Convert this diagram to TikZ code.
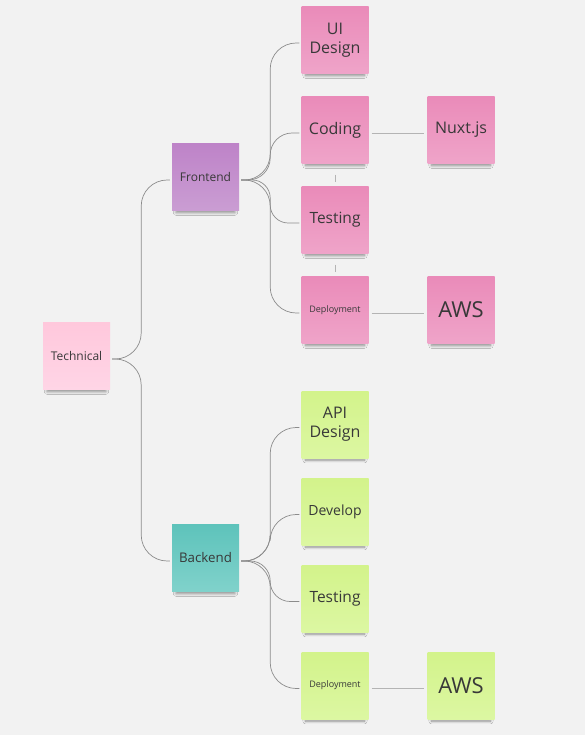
\documentclass[tikz,border=0pt]{standalone}
\usepackage{fontspec}
\setmainfont{Open Sans}
\usetikzlibrary{positioning,shadows.blur}

\definecolor{bgcol}{HTML}{F2F2F2}
\definecolor{linkcol}{HTML}{8C8C8C}
\definecolor{stubcol}{HTML}{B4B4B4}
\definecolor{inkcol}{HTML}{383838}
\definecolor{roottop}{HTML}{FFC8DC}
\definecolor{rootbot}{HTML}{FFD5E6}
\definecolor{purptop}{HTML}{BE83C8}
\definecolor{purpbot}{HTML}{CA9DD3}
\definecolor{pinktop}{HTML}{EA8BB9}
\definecolor{pinkbot}{HTML}{EFA4C9}
\definecolor{tealtop}{HTML}{5EC3BB}
\definecolor{tealbot}{HTML}{80D2CB}
\definecolor{greentop}{HTML}{D3F38B}
\definecolor{greenbot}{HTML}{DCF7A2}

\begin{document}
\begin{tikzpicture}[x=1pt,y=-1pt,
note/.style={rectangle,inner sep=0pt,minimum width=67pt,minimum height=67pt,
  align=center,text=inkcol,
  blur shadow={shadow xshift=0pt,shadow yshift=-7pt,shadow scale=0.88,shadow blur radius=3pt,shadow opacity=42,shadow blur steps=8}},
rootnote/.style={note,top color=roottop,bottom color=rootbot},
purplenote/.style={note,top color=purptop,bottom color=purpbot},
pinknote/.style={note,top color=pinktop,bottom color=pinkbot},
tealnote/.style={note,top color=tealtop,bottom color=tealbot},
greennote/.style={note,top color=greentop,bottom color=greenbot},
link/.style={draw=linkcol,line width=0.7pt},
stub/.style={draw=stubcol,line width=0.8pt},
every node/.style={font=\fontsize{12}{14}\selectfont}]

\fill[bgcol] (0,0) rectangle (585,735);
\useasboundingbox (0,0) rectangle (585,735);

% root
\node[rootnote] (tech) at (76.5,356) {Technical};

% frontend side
\node[purplenote] (front) at (205.5,177) {Frontend};
\node[pinknote,font=\fontsize{16}{19}\selectfont] (uides) at (335,40) {UI\\Design};
\node[pinknote,font=\fontsize{16}{19}\selectfont] (fcode) at (335,130) {Coding};
\node[pinknote,font=\fontsize{15.5}{19}\selectfont] (ftest) at (335,220) {Testing};
\node[pinknote,font=\fontsize{9}{11}\selectfont] (fdeploy) at (335,310) {Deployment};
\node[pinknote,font=\fontsize{16}{19}\selectfont] (nuxt) at (461,130) {Nuxt.js};
\node[pinknote,font=\fontsize{22}{26}\selectfont] (faws) at (461,310) {AWS};

% backend side
\node[tealnote,font=\fontsize{13.3}{16}\selectfont] (back) at (205.5,558) {Backend};
\node[greennote,font=\fontsize{16}{19}\selectfont] (apides) at (335,424.5) {API\\Design};
\node[greennote,font=\fontsize{14}{17}\selectfont] (bdev) at (335,511.5) {Develop};
\node[greennote,font=\fontsize{15.5}{19}\selectfont] (btest) at (335,598.5) {Testing};
\node[greennote,font=\fontsize{9}{11}\selectfont] (bdeploy) at (335,685.5) {Deployment};
\node[greennote,font=\fontsize{22}{26}\selectfont] (baws) at (461,685.5) {AWS};

% tree links
\foreach \a/\b/\r in {tech/front/26,tech/back/26,front/uides/26,front/fcode/22,front/ftest/18,front/fdeploy/26,
                   back/apides/26,back/bdev/26,back/btest/20,back/bdeploy/26}
  \draw[link,rounded corners=\r pt] ([xshift=2pt,yshift=-3pt]\a.east) -- ++(29,0) |- ([xshift=-2pt,yshift=-3pt]\b.west);

% side links
\draw[stub] ([xshift=3pt,yshift=-3pt]fcode.east) -- ([xshift=-3pt,yshift=-3pt]nuxt.west);
\draw[stub] ([xshift=3pt,yshift=-3pt]fdeploy.east) -- ([xshift=-3pt,yshift=-3pt]faws.west);
\draw[stub] ([xshift=3pt,yshift=-3pt]bdeploy.east) -- ([xshift=-3pt,yshift=-3pt]baws.west);
\draw[stub,shorten <=11pt,shorten >=4pt] (fcode.south) -- (ftest.north);
\draw[stub,shorten <=11pt,shorten >=4pt] (ftest.south) -- (fdeploy.north);

\end{tikzpicture}
\end{document}
